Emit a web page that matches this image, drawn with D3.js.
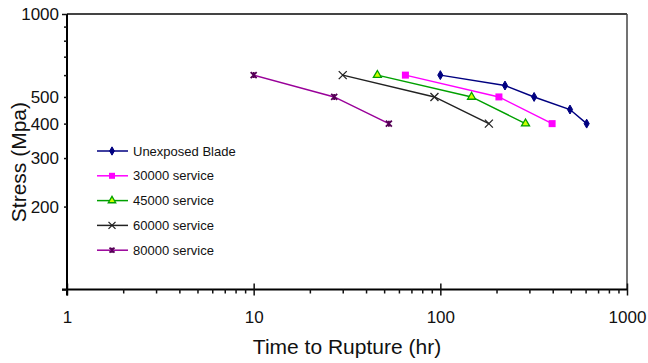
<!DOCTYPE html>
<html>
<head>
<meta charset="utf-8">
<script src="https://cdn.jsdelivr.net/npm/d3@7"></script>
<style>
  body { margin: 0; background: #fff; }
  svg { font-family: "Liberation Sans", Arial, sans-serif; }
</style>
</head>
<body>
<div id="chart"></div>
<script>
// data (time in hr, stress in MPa)
let seriesNames = ["Unexposed Blade", "30000 service", "45000 service", "60000 service", "80000 service"];
let unexposedTime = [100, 222, 318, 495, 608];
let unexposedStress = [600, 550, 500, 450, 400];
let s30000Time = [65, 206, 397];
let s30000Stress = [600, 500, 400];
let s45000Time = [46, 147, 286];
let s45000Stress = [600, 500, 400];
let s60000Time = [30, 93, 182];
let s60000Stress = [600, 500, 400];
let s80000Time = [10, 27, 53];
let s80000Stress = [600, 500, 400];
let xTickLabels = [1, 10, 100, 1000];
let yTickLabels = [200, 300, 400, 500, 1000];

let width = 648, height = 363;
let padding = {top: 14, right: 21, bottom: 73.5, left: 67};
let plot_w = width - padding.left - padding.right;
let plot_h = height - padding.top - padding.bottom;

let series = [
	{name: seriesNames[0], x: unexposedTime, y: unexposedStress, color: "#000080", marker: "diamond", fill: "#000080"},
	{name: seriesNames[1], x: s30000Time, y: s30000Stress, color: "#ff00ff", marker: "square", fill: "#ff00ff"},
	{name: seriesNames[2], x: s45000Time, y: s45000Stress, color: "#00a000", marker: "triangle", fill: "#ccff00"},
	{name: seriesNames[3], x: s60000Time, y: s60000Stress, color: "#222222", marker: "cross", fill: "none"},
	{name: seriesNames[4], x: s80000Time, y: s80000Stress, color: "#990099", marker: "star", fill: "#550055"}
];

let svg = d3.select("#chart").append("svg")
	.attr("width", width)
	.attr("height", height);

let g = svg.append("g")
	.attr("transform", "translate(" + padding.left + "," + padding.top + ")");

let xScale = d3.scaleLog().domain([1, 1000]).range([0, plot_w]);
let yScale = d3.scaleLog().domain([100, 1000]).range([plot_h, 0]);

// minor ticks for each decade
let xMinor = [];
let yMinor = [];
for (let dec = 1; dec < 1000; dec *= 10) {
	for (let k = 2; k <= 9; k++) xMinor.push(k * dec);
}
for (let k = 2; k <= 9; k++) yMinor.push(k * 100);

// frame (top and right)
g.append("line").attr("x1", 0).attr("x2", plot_w).attr("y1", 0).attr("y2", 0)
	.attr("stroke", "#444").attr("stroke-width", 2);
g.append("line").attr("x1", plot_w).attr("x2", plot_w).attr("y1", 0).attr("y2", plot_h)
	.attr("stroke", "#444").attr("stroke-width", 1.5);

// x axis
let xAxis = d3.axisBottom(xScale).tickValues(xMinor).tickSize(4).tickFormat("");
let xg = g.append("g").attr("transform", "translate(0," + plot_h + ")").call(xAxis);
let xMajor = d3.axisBottom(xScale).tickValues(xTickLabels).tickSize(6).tickPadding(15).tickFormat(d3.format("d"));
let xg2 = g.append("g").attr("transform", "translate(0," + plot_h + ")").call(xMajor);
xg2.select(".domain").remove();
xg2.selectAll("text").style("font-size", "17px").attr("fill", "#111");
xg2.selectAll(".tick line").attr("y1", -6);
xg.select(".domain").attr("d", "M-5,0H" + plot_w).attr("stroke-width", 2);
[xg, xg2].forEach(a => a.selectAll(".tick line").attr("stroke-width", 1.5).attr("stroke", "#111"));

// y axis
let yAxis = d3.axisLeft(yScale).tickValues(yMinor).tickSize(3).tickFormat("");
let yg = g.append("g").call(yAxis);
let yMajor = d3.axisLeft(yScale).tickValues([100, 1000]).tickSize(5).tickFormat("");
let yg2 = g.append("g").call(yMajor);
yg2.select(".domain").remove();
yg.select(".domain").attr("d", "M0,0V" + (plot_h + 6)).attr("stroke-width", 2);
[yg, yg2].forEach(a => a.selectAll(".tick line").attr("stroke-width", 1.5).attr("stroke", "#111"));

yg.append("g").selectAll("text")
	.data(yTickLabels)
	.enter().append("text")
	.attr("x", -8)
	.attr("y", d => yScale(d))
	.attr("dy", "0.35em")
	.attr("text-anchor", "end")
	.attr("fill", "#111")
	.style("font-size", "17px")
	.text(d => d);

// axis titles
svg.append("text")
	.attr("x", padding.left + plot_w / 2)
	.attr("y", 354)
	.attr("text-anchor", "middle")
	.style("font-size", "21px")
	.attr("fill", "#111")
	.text("Time to Rupture (hr)");

svg.append("text")
	.attr("transform", "translate(26," + (padding.top + yScale(300) + 4) + ") rotate(-90)")
	.attr("text-anchor", "middle")
	.style("font-size", "21px")
	.attr("fill", "#111")
	.text("Stress (Mpa)");

function drawMarker(sel, s, size) {
	if (s.marker === "diamond") {
		sel.append("path").attr("d", d3.symbol(d3.symbolDiamond, size * 3.3)())
			.attr("fill", s.fill).attr("stroke", s.color);
	} else if (s.marker === "square") {
		sel.append("rect").attr("x", -size / 2).attr("y", -size / 2)
			.attr("width", size).attr("height", size).attr("fill", s.fill);
	} else if (s.marker === "triangle") {
		sel.append("path").attr("d", d3.symbol(d3.symbolTriangle, size * 4)())
			.attr("fill", s.fill).attr("stroke", s.color).attr("stroke-width", 1.3);
	} else if (s.marker === "cross") {
		let r = size / 2 + 0.5;
		sel.append("path").attr("d", "M" + -r + "," + -r + "L" + r + "," + r + "M" + -r + "," + r + "L" + r + "," + -r)
			.attr("stroke", s.color).attr("stroke-width", 1.3);
	} else if (s.marker === "star") {
		let r = size / 2 - 0.5;
		sel.append("path").attr("d", "M" + -r + "," + -r + "L" + r + "," + r + "M" + -r + "," + r + "L" + r + "," + -r + "M0," + -r + "V" + r)
			.attr("stroke", s.fill).attr("stroke-width", 1.8);
	}
}

// series lines and markers
let line = d3.line().x(d => xScale(d[0])).y(d => yScale(d[1]));
series.forEach(function (s) {
	let pts = s.x.map((v, i) => [v, s.y[i]]);
	g.append("path")
		.datum(pts)
		.attr("d", line)
		.attr("fill", "none")
		.attr("stroke", s.color)
		.attr("stroke-width", 1.5);
	g.selectAll(null)
		.data(pts)
		.enter().append("g")
		.attr("transform", d => "translate(" + xScale(d[0]) + "," + yScale(d[1]) + ")")
		.each(function () { drawMarker(d3.select(this), s, 7); });
});

// legend
let legend = svg.append("g").attr("transform", "translate(97,151)");
series.forEach(function (s, i) {
	let row = legend.append("g").attr("transform", "translate(0," + (i * 24.8) + ")");
	row.append("line").attr("x1", 0).attr("x2", 31).attr("y1", 0).attr("y2", 0)
		.attr("stroke", s.color).attr("stroke-width", 1.5);
	let m = row.append("g").attr("transform", "translate(15,0)");
	drawMarker(m, s, 6);
	row.append("text")
		.attr("x", 36)
		.attr("y", 0)
		.attr("dy", "0.35em")
		.style("font-size", "13px")
		.attr("fill", "#111")
		.text(s.name);
});
</script>
</body>
</html>
